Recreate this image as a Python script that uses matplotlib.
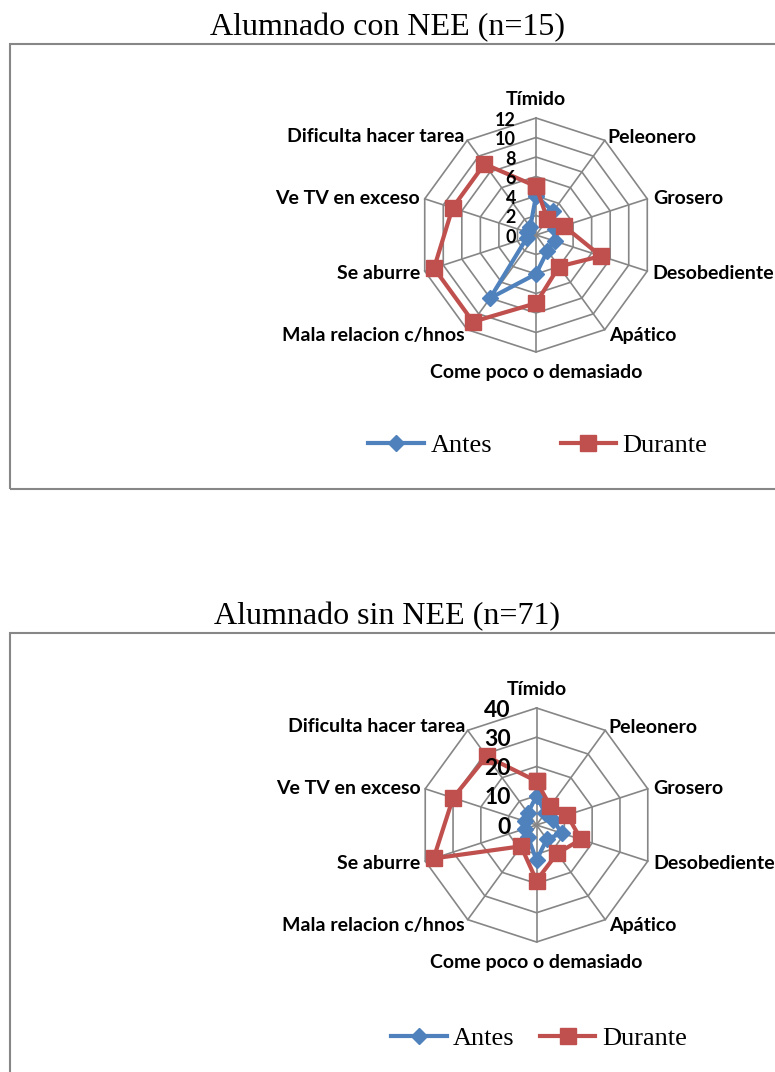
import numpy as np
import matplotlib.pyplot as plt
from matplotlib.patches import Rectangle

categorias = ['Tímido', 'Peleonero', 'Grosero', 'Desobediente', 'Apático',
              'Come poco o demasiado', 'Mala relacion c/hnos', 'Se aburre',
              'Ve TV en exceso', 'Dificulta hacer tarea']

# Alumnado con NEE (n=15)
nee_antes = [4, 3, 2, 2, 2, 4, 8, 1, 1, 1]
nee_durante = [5, 2, 3, 7, 4, 7, 11, 11, 9, 9]
nee_ticks = [0, 2, 4, 6, 8, 10, 12]

# Alumnado sin NEE (n=71)
sin_antes = [10, 5, 6, 9, 6, 12, 5, 4, 4, 5]
sin_durante = [15, 8, 11, 16, 12, 19, 9, 37, 30, 29]
sin_ticks = [0, 10, 20, 30, 40]

W, H = 775, 1072
R = 117
AZUL = '#4F81BD'
ROJO = '#C0504D'
GRIS = '#868686'
ETIQ = ['Lato', 'DejaVu Sans']
SERIF = ['Liberation Serif', 'DejaVu Serif']

# offsets (points) of each category label from its vertex, and alignment
lab_pos = [(0, 13, 'center'), (2, 2, 'left'), (4, 0.5, 'left'), (4, -1.5, 'left'),
           (3, -4, 'left'), (0, -14.5, 'center'), (-2, -4, 'right'),
           (-3.5, -1.5, 'right'), (-3.5, 0.5, 'right'), (-2, 2.5, 'right')]

fig = plt.figure(figsize=(W / 100, H / 100), dpi=100)


def radar(cx, cy, antes, durante, ticks, tick_size, tick_dx):
    ax = fig.add_axes([(cx - R) / W, 1 - (cy + R) / H, 2 * R / W, 2 * R / H],
                      projection='polar')
    ax.set_theta_offset(np.pi / 2)
    ax.set_theta_direction(-1)
    ang = np.linspace(0, 2 * np.pi, len(categorias), endpoint=False)
    ang_c = np.append(ang, ang[0])
    rmax = ticks[-1]
    ax.set_ylim(0, rmax)
    ax.set_axis_off()

    for t in ticks[1:]:
        ax.plot(ang_c, [t] * len(ang_c), color=GRIS, lw=1.2, zorder=1, clip_on=False)
    for a in ang:
        ax.plot([a, a], [0, rmax], color=GRIS, lw=1.2, zorder=1, clip_on=False)

    l1, = ax.plot(ang_c, antes + antes[:1], color=AZUL, lw=3, marker='D', ms=8.5,
                  zorder=3, clip_on=False, label='Antes')
    l2, = ax.plot(ang_c, durante + durante[:1], color=ROJO, lw=3, marker='s', ms=11,
                  zorder=4, clip_on=False, label='Durante')

    for v in ticks:
        ax.annotate(str(v), xy=(0, v), xytext=(-tick_dx, -1.5), textcoords='offset points',
                    ha='right', va='center', fontweight='bold', fontsize=tick_size,
                    family=ETIQ, annotation_clip=False, zorder=5)

    for a, nombre, (dx, dy, ha) in zip(ang, categorias, lab_pos):
        ax.annotate(nombre, xy=(a, rmax), xytext=(dx, dy), textcoords='offset points',
                    ha=ha, va='center', fontweight='bold', fontsize=14,
                    family=ETIQ, annotation_clip=False)
    return l1, l2


# top chart
fig.add_artist(Rectangle((10 / W, 1 - 489 / H), 1, (489 - 44) / H,
                         transform=fig.transFigure, fill=False, ec='#878787', lw=1.5))
fig.text(387 / W, 1 - 28 / H, 'Alumnado con NEE (n=15)', family=SERIF, fontsize=23,
         ha='center', va='center')
h = radar(536, 235, nee_antes, nee_durante, nee_ticks, 13, 14.5)
fig.legend(handles=h, loc='center', bbox_to_anchor=(538 / W, 1 - 445 / H), ncol=2,
           frameon=False, prop={'family': SERIF, 'size': 19}, handlelength=2.1,
           handletextpad=0.25, columnspacing=2.6)

# bottom chart
fig.add_artist(Rectangle((10 / W, -0.1), 1, (1 - 633 / H) + 0.1,
                         transform=fig.transFigure, fill=False, ec='#878787', lw=1.5))
fig.text(387 / W, 1 - 617 / H, 'Alumnado sin NEE (n=71)', family=SERIF, fontsize=23,
         ha='center', va='center')
h = radar(536.5, 825, sin_antes, sin_durante, sin_ticks, 16.5, 18.5)
fig.legend(handles=h, loc='center', bbox_to_anchor=(539 / W, 1 - 1038 / H), ncol=2,
           frameon=False, prop={'family': SERIF, 'size': 19}, handlelength=2.1,
           handletextpad=0.25, columnspacing=0.95)

fig.savefig('out.png', dpi=100)
